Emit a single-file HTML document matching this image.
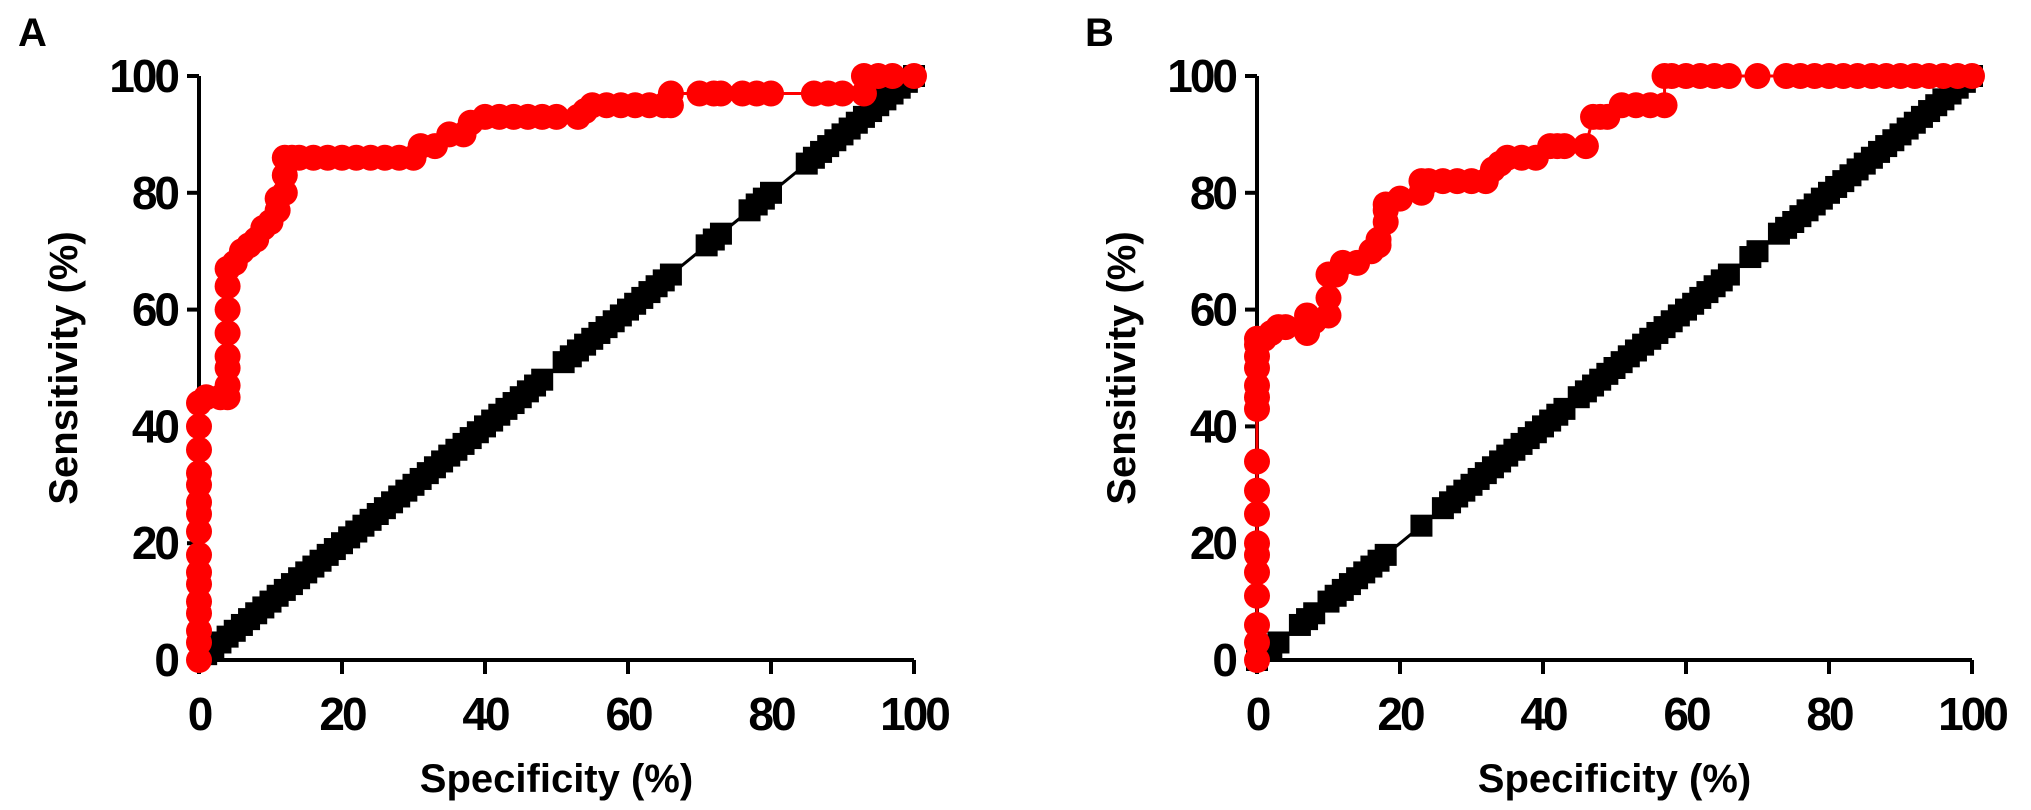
<!DOCTYPE html>
<html><head><meta charset="utf-8"><style>
html,body{margin:0;padding:0;background:#fff;}
svg{display:block;font-family:"Liberation Sans",Arial,sans-serif;font-weight:bold;}
</style></head><body>
<svg id="chart" width="2031" height="810" viewBox="0 0 2031 810"></svg>
<script>
// Panel A data
const aRedX=[0,0,0,0,0,0,0,0,0,0,0,0,0,0,0,0,1,3,4,4,4,4,4,4,4,4,5,6,7,8,9,10,11,11,12,12,12,13,14,16,18,20,22,24,26,28,30,31,33,35,37,38,40,42,44,46,48,50,53,54,55,57,59,61,63,65,66,66,70,72,73,76,78,80,86,88,90,93,93,95,97,100];
const aRedY=[0,3,5,8,10,13,15,18,22,25,27,30,32,36,40,44,45,45,45,47,50,52,56,60,64,67,68,70,71,72,74,75,77,79,80,83,86,86,86,86,86,86,86,86,86,86,86,88,88,90,90,92,93,93,93,93,93,93,93,94,95,95,95,95,95,95,95,97,97,97,97,97,97,97,97,97,97,97,100,100,100,100];
const aBlkX=[1,2,3,4,5,6,7,8,9,10,11,12,13,14,15,16,17,18,19,20,21,22,23,24,25,26,27,28,29,30,31,32,33,34,35,36,37,38,39,40,41,42,43,44,45,46,47,48,51,52,53,54,55,56,57,58,59,60,61,62,63,64,65,66,71,72,73,77,78,79,80,85,86,87,88,89,90,91,92,93,94,95,96,97,98,99,100];
const aBlkY=[1,2,3,4,5,6,7,8,9,10,11,12,13,14,15,16,17,18,19,20,21,22,23,24,25,26,27,28,29,30,31,32,33,34,35,36,37,38,39,40,41,42,43,44,45,46,47,48,51,52,53,54,55,56,57,58,59,60,61,62,63,64,65,66,71,72,73,77,78,79,80,85,86,87,88,89,90,91,92,93,94,95,96,97,98,99,100];
// Panel B data
const bRedX=[0,0,0,0,0,0,0,0,0,0,0,0,0,0,0,0,0,1,2,3,4,7,7,8,10,10,10,11,12,14,16,17,17,18,18,18,20,23,23,24,26,28,30,32,33,34,35,37,39,41,42,43,46,47,48,49,51,53,55,57,57,58,60,62,64,66,70,74,76,78,80,82,84,86,88,90,92,94,96,98,100];
const bRedY=[0,3,6,11,15,18,20,25,29,34,43,45,47,50,52,54,55,55,56,57,57,56,59,58,59,62,66,66,68,68,70,71,72,75,77,78,79,80,82,82,82,82,82,82,84,85,86,86,86,88,88,88,88,93,93,93,95,95,95,95,100,100,100,100,100,100,100,100,100,100,100,100,100,100,100,100,100,100,100,100,100];
const bBlkX=[0,2,3,6,7,8,10,11,12,13,14,15,16,17,18,23,26,27,28,29,30,31,32,33,34,35,36,37,38,39,40,41,42,43,45,46,47,48,49,50,51,52,53,54,55,56,57,58,59,60,61,62,63,64,65,66,69,70,73,74,75,76,77,78,79,80,81,82,83,84,85,86,87,88,89,90,91,92,93,94,95,96,97,98,99,100];
const bBlkY=[0,2,3,6,7,8,10,11,12,13,14,15,16,17,18,23,26,27,28,29,30,31,32,33,34,35,36,37,38,39,40,41,42,43,45,46,47,48,49,50,51,52,53,54,55,56,57,58,59,60,61,62,63,64,65,66,69,70,73,74,75,76,77,78,79,80,81,82,83,84,85,86,87,88,89,90,91,92,93,94,95,96,97,98,99,100];
const ticks=[0,20,40,60,80,100];
const tickLabels=["0","20","40","60","80","100"];
const letters=["A","B"];

const NS="http://www.w3.org/2000/svg";
const svg=document.getElementById('chart');
function mk(tag,attrs,parent){const e=document.createElementNS(NS,tag);for(const k in attrs)e.setAttribute(k,attrs[k]);(parent||svg).appendChild(e);return e;}

const panels=[
 {x0:199,x1:914,rx:aRedX,ry:aRedY,bx:aBlkX,by:aBlkY,letter:letters[0],lx:18},
 {x0:1257,x1:1972,rx:bRedX,ry:bRedY,bx:bBlkX,by:bBlkY,letter:letters[1],lx:1085}
];
const Y0=660,Y1=76;
panels.forEach((p,pi)=>{
 const g=mk('g',{});
 
 
 const sx=v=>p.x0+(p.x1-p.x0)*v/100;
 const sy=v=>Y0-(Y0-Y1)*v/100;
 const lt=mk('text',{x:p.lx,y:46,'font-size':40},g);lt.textContent=p.letter;
 
 
 const ya=mk('line',{x1:p.x0,y1:Y0,x2:p.x0,y2:Y1,stroke:'#000','stroke-width':4},g);
 
 
 const xa=mk('line',{x1:p.x0,y1:Y0,x2:p.x1,y2:Y0,stroke:'#000','stroke-width':4},g);
 
 
 ticks.forEach((t,i)=>{
  mk('line',{x1:p.x0-12,y1:sy(t),x2:p.x0,y2:sy(t),stroke:'#000','stroke-width':4},g);
  mk('line',{x1:sx(t),y1:Y0,x2:sx(t),y2:Y0+14,stroke:'#000','stroke-width':4},g);
  const yl=mk('text',{x:p.x0-22,y:sy(t)+16,'font-size':46,'text-anchor':'end','letter-spacing':-3},g);
  yl.textContent=tickLabels[i];
  
  
  const xl=mk('text',{x:sx(t),y:730,'font-size':46,'text-anchor':'middle','letter-spacing':-3},g);
  xl.textContent=tickLabels[i];
  
  
 });
 const xt=mk('text',{x:(p.x0+p.x1)/2,y:792,'font-size':40,'text-anchor':'middle'},g);
 xt.textContent='Specificity (%)';
 
 
 const ty=(Y0+Y1)/2, tx=p.x0-122;
 const yt=mk('text',{x:tx,y:ty,'font-size':40,'text-anchor':'middle',transform:`rotate(-90 ${tx} ${ty})`},g);
 yt.textContent='Sensitivity (%)';
 
 
 const bl=mk('polyline',{points:p.bx.map((v,i)=>sx(v)+','+sy(p.by[i])).join(' '),fill:'none',stroke:'#000','stroke-width':3},g);
 
 
 p.bx.forEach((v,i)=>{
  const r=mk('rect',{x:sx(v)-11,y:sy(p.by[i])-11,width:22,height:22,fill:'#000'},g);
  
  
 });
 const rl=mk('polyline',{points:p.rx.map((v,i)=>sx(v)+','+sy(p.ry[i])).join(' '),fill:'none',stroke:'#f00','stroke-width':3},g);
 
 
 p.rx.forEach((v,i)=>{
  const c=mk('circle',{cx:sx(v),cy:sy(p.ry[i]),r:13,fill:'#f00'},g);
  
  
 });
});
</script>
</body></html>
